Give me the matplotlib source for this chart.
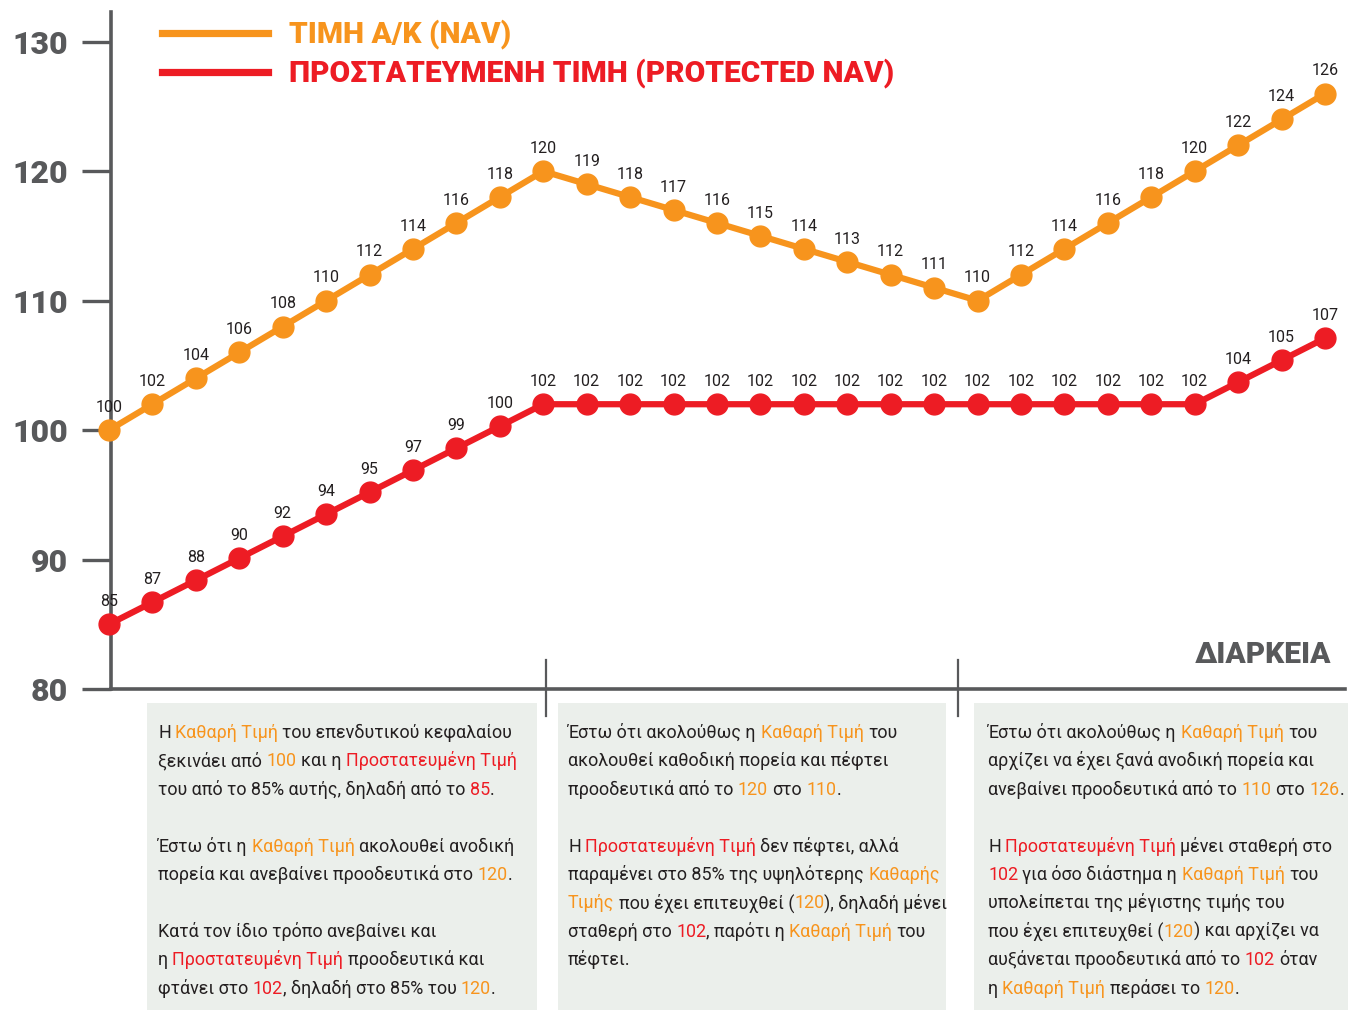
import matplotlib.pyplot as plt
from matplotlib.lines import Line2D
from matplotlib.patches import Rectangle

# --- data -----------------------------------------------------------------
nav = [100, 102, 104, 106, 108, 110, 112, 114, 116, 118, 120,
       119, 118, 117, 116, 115, 114, 113, 112, 111, 110,
       112, 114, 116, 118, 120, 122, 124, 126]
protected = [85, 86.7, 88.4, 90.1, 91.8, 93.5, 95.2, 96.9, 98.6, 100.3, 102,
             102, 102, 102, 102, 102, 102, 102, 102, 102, 102,
             102, 102, 102, 102, 102, 103.7, 105.4, 107.1]
protected_labels = ['85', '87', '88', '90', '92', '94', '95', '97', '99', '100', '102',
                    '102', '102', '102', '102', '102', '102', '102', '102', '102', '102',
                    '102', '102', '102', '102', '102', '104', '105', '107']
yticks = [80, 90, 100, 110, 120, 130]

legend_nav = 'ΤΙΜΗ Α/Κ (NAV)'
legend_prot = 'ΠΡΟΣΤΑΤΕΥΜΕΝΗ ΤΙΜΗ (PROTECTED NAV)'
xlabel = 'ΔΙΑΡΚΕΙΑ'

ORANGE = '#F7941D'
RED = '#ED1C24'
DARK = '#231F20'
GRAY = '#58595B'
BOXBG = '#EBEFEB'

D, O, R = DARK, ORANGE, RED
box1 = [
    [('Η ', D), ('Καθαρή Τιμή', O), (' του επενδυτικού κεφαλαίου', D)],
    [('ξεκινάει από ', D), ('100', O), (' και η ', D), ('Προστατευμένη Τιμή', R)],
    [('του από το 85% αυτής, δηλαδή από το ', D), ('85', R), ('.', D)],
    [],
    [('Έστω ότι η ', D), ('Καθαρή Τιμή', O), (' ακολουθεί ανοδική', D)],
    [('πορεία και ανεβαίνει προοδευτικά στο ', D), ('120', O), ('.', D)],
    [],
    [('Κατά τον ίδιο τρόπο ανεβαίνει και', D)],
    [('η ', D), ('Προστατευμένη Τιμή', R), (' προοδευτικά και', D)],
    [('φτάνει στο ', D), ('102', R), (', δηλαδή στο 85% του ', D), ('120', O), ('.', D)],
]
box2 = [
    [('Έστω ότι ακολούθως η ', D), ('Καθαρή Τιμή', O), (' του', D)],
    [('ακολουθεί καθοδική πορεία και πέφτει', D)],
    [('προοδευτικά από το ', D), ('120', O), (' στο ', D), ('110', O), ('.', D)],
    [],
    [('Η ', D), ('Προστατευμένη Τιμή', R), (' δεν πέφτει, αλλά', D)],
    [('παραμένει στο 85% της υψηλότερης ', D), ('Καθαρής', O)],
    [('Τιμής', O), (' που έχει επιτευχθεί (', D), ('120', O), ('), δηλαδή μένει', D)],
    [('σταθερή στο ', D), ('102', R), (', παρότι η ', D), ('Καθαρή Τιμή', O), (' του', D)],
    [('πέφτει.', D)],
]
box3 = [
    [('Έστω ότι ακολούθως η ', D), ('Καθαρή Τιμή', O), (' του', D)],
    [('αρχίζει να έχει ξανά ανοδική πορεία και', D)],
    [('ανεβαίνει προοδευτικά από το ', D), ('110', O), (' στο ', D), ('126', O), ('.', D)],
    [],
    [('Η ', D), ('Προστατευμένη Τιμή', R), (' μένει σταθερή στο', D)],
    [('102', R), (' για όσο διάστημα η ', D), ('Καθαρή Τιμή', O), (' του', D)],
    [('υπολείπεται της μέγιστης τιμής του', D)],
    [('που έχει επιτευχθεί (', D), ('120', O), (') και αρχίζει να', D)],
    [('αυξάνεται προοδευτικά από το ', D), ('102', R), (' όταν', D)],
    [('η ', D), ('Καθαρή Τιμή', O), (' περάσει το ', D), ('120', O), ('.', D)],
]

FONT = ['Roboto', 'DejaVu Sans']
W, H = 1348, 1010

fig = plt.figure(figsize=(W / 100, H / 100), dpi=100)
fig.patch.set_facecolor('white')


def fx(x):
    return x / W


def fy(y):
    return 1 - y / H


ax = fig.add_axes([fx(111), fy(689), fx(1345) - fx(111), fy(12) - fy(689)])
x = list(range(len(nav)))

ax.plot(x, nav, color=ORANGE, lw=4.5, marker='o', ms=15, clip_on=False, zorder=5)
ax.plot(x, protected, color=RED, lw=4.5, marker='o', ms=15, clip_on=False, zorder=5)

for i, v in enumerate(nav):
    ax.annotate(str(v), (i, v), xytext=(0, 11), textcoords='offset points',
                ha='center', va='bottom', fontsize=11.5, color=DARK, family=FONT,
                zorder=6, annotation_clip=False)
for i, v in enumerate(protected):
    ax.annotate(protected_labels[i], (i, v), xytext=(0, 11), textcoords='offset points',
                ha='center', va='bottom', fontsize=11.5, color=DARK, family=FONT,
                zorder=6, annotation_clip=False)

ax.set_xlim(0.046, 28.46)
ax.set_ylim(80, 132.3)
ax.set_yticks(yticks)
ax.set_yticklabels([str(t) for t in yticks], fontsize=23, fontweight='black',
                   color=GRAY, family=FONT)
ax.set_xticks([])
ax.tick_params(axis='y', length=21, width=2.4, color=GRAY, pad=10)
for s in ['top', 'right']:
    ax.spines[s].set_visible(False)
for s in ['left', 'bottom']:
    ax.spines[s].set_color(GRAY)
    ax.spines[s].set_linewidth(2.6)
ax.patch.set_alpha(0)

# legend drawn by hand
fig.add_artist(Line2D([fx(162), fx(268)], [fy(33), fy(33)], color=ORANGE, lw=5.2))
fig.add_artist(Line2D([fx(162), fx(268)], [fy(72), fy(72)], color=RED, lw=5.2))
fig.text(fx(289), fy(34), legend_nav, color=ORANGE, fontsize=21.5, fontweight='black',
         family=FONT, va='center')
fig.text(fx(289), fy(73), legend_prot, color=RED, fontsize=21.5, fontweight='black',
         family=FONT, va='center')

fig.text(fx(1331), fy(663), xlabel, color=GRAY, fontsize=21.5, fontweight='black',
         family=FONT, ha='right', va='baseline')

# period dividers
for xd in [546, 958]:
    fig.add_artist(Line2D([fx(xd), fx(xd)], [fy(660), fy(716)], color=GRAY, lw=1.6))

# text boxes
for x0, x1 in [(147, 537), (558, 946), (974, 1348)]:
    fig.add_artist(Rectangle((fx(x0), fy(1010)), fx(x1) - fx(x0), fy(703) - fy(1010),
                             transform=fig.transFigure, color=BOXBG, lw=0, zorder=0))

renderer = fig.canvas.get_renderer()
BODY = 12.9
t1 = fig.text(0, 0, 'n n', fontsize=BODY, family=FONT)
t2 = fig.text(0, 0, 'nn', fontsize=BODY, family=FONT)
space_w = t1.get_window_extent(renderer).width - t2.get_window_extent(renderer).width
t1.remove()
t2.remove()


def rich_block(x0, y0, lines, pitch=28.4):
    for k, parts in enumerate(lines):
        cur = x0
        y = y0 + k * pitch
        for txt, col in parts:
            lead = len(txt) - len(txt.lstrip(' '))
            trail = len(txt) - len(txt.rstrip(' '))
            cur += lead * space_w
            t = fig.text(cur / W, fy(y), txt.strip(' '), color=col, fontsize=BODY,
                         family=FONT, ha='left', va='baseline')
            cur = t.get_window_extent(renderer).x1 + trail * space_w


rich_block(158, 738, box1)
rich_block(568, 738, box2)
rich_block(988, 738, box3)

fig.savefig('out.png', dpi=100)
